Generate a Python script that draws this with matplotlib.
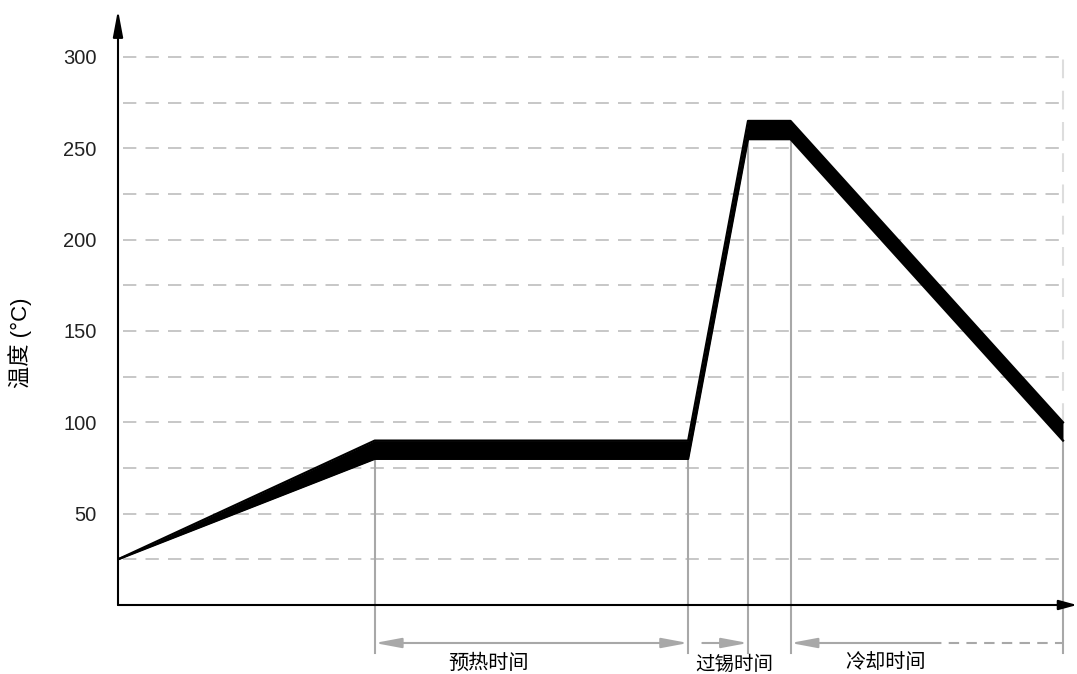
import matplotlib.pyplot as plt

plt.rcParams['font.family'] = ['Liberation Sans', 'Noto Sans CJK SC', 'DejaVu Sans']

# profile key points (time in arbitrary units, temperature in °C)
times = [0, 81.5, 181, 200, 213.5, 300]
temp_upper = [25, 90, 90, 265, 265, 100]
temp_lower = [25, 80, 80, 255, 255, 90]

yticks = [50, 100, 150, 200, 250, 300]
grid_levels = [25, 50, 75, 100, 125, 150, 175, 200, 225, 250, 275, 300]

phase_labels = ["预热时间", "过锡时间", "冷却时间"]
label_x = [117.5, 195.6, 243.8]
ylabel = "温度 (°C)"

fig = plt.figure(figsize=(10.77, 6.74), dpi=100)
ax = fig.add_axes([118 / 1077, 69 / 674, (1077 - 118) / 1077, (605 - 10) / 674])
ax.set_xlim(0, (1077 - 118) / 3.15)
ax.set_ylim(0, (605 - 10) / 1.8267)

for s in ax.spines.values():
    s.set_visible(False)
ax.set_xticks([])
ax.set_yticks(yticks)
ax.set_yticklabels([str(v) for v in yticks], fontsize=14.5, color="#222222")
ax.tick_params(axis="y", length=0, pad=15.5)
ax.set_ylabel(ylabel, fontsize=16)
ax.yaxis.set_label_coords(-0.09, 0.44)

# dashed grid
ax.hlines(grid_levels, 1.5, times[-1], colors="#bdbdbd", linewidth=1.2,
          linestyles=(0, (8, 5.5)), zorder=1)

# axis arrows
ax.annotate("", xy=(0, 1), xycoords="axes fraction", xytext=(0, 0),
            arrowprops=dict(arrowstyle="-|>,head_length=1.6,head_width=0.3",
                            color="black", lw=1.5, shrinkA=0, shrinkB=0))
ax.annotate("", xy=(1, 0), xycoords="axes fraction", xytext=(0, 0),
            arrowprops=dict(arrowstyle="-|>,head_length=1.1,head_width=0.3",
                            color="black", lw=1.5, shrinkA=0, shrinkB=0))

# phase boundary lines
y_bottom = -26.5
gray = "#a8a8a8"
for i in [1, 2, 3, 4, 5]:
    ax.plot([times[i], times[i]], [temp_lower[i], y_bottom], color=gray, lw=1.5,
            clip_on=False, zorder=2)
ax.plot([times[5], times[5]], [temp_upper[5], 300], color="#dddddd", lw=1.5,
        linestyle=(0, (9, 6)), zorder=2)

# temperature band
ax.fill_between(times, temp_lower, temp_upper, color="black", lw=0, zorder=3)
ax.plot(times, temp_upper, color="black", lw=1.6, zorder=3)
ax.plot(times, temp_lower, color="black", lw=1.6, zorder=3)

# phase arrows
ya = -20.8
head = "head_length=1.6,head_width=0.3"
ax.annotate("", xy=(times[2], ya), xytext=(times[1], ya), annotation_clip=False,
            arrowprops=dict(arrowstyle="<|-|>," + head, color=gray, lw=1.5,
                            shrinkA=0, shrinkB=0))
ax.annotate("", xy=(times[3], ya), xytext=(185.5, ya), annotation_clip=False,
            arrowprops=dict(arrowstyle="-|>," + head, color=gray, lw=1.5,
                            shrinkA=0, shrinkB=0))
ax.annotate("", xy=(times[4], ya), xytext=(258, ya), annotation_clip=False,
            arrowprops=dict(arrowstyle="-|>," + head, color=gray, lw=1.5,
                            shrinkA=0, shrinkB=0))
ax.plot([258, times[5]], [ya, ya], color=gray, lw=1.5, linestyle=(0, (5, 3.5)),
        clip_on=False)

ax.text(label_x[0], -31.7, phase_labels[0], ha="center", va="center", fontsize=14.5)
ax.text(label_x[1], -32.9, phase_labels[1], ha="center", va="center", fontsize=14)
ax.text(label_x[2], -31.7, phase_labels[2], ha="center", va="center", fontsize=14.5)

fig.savefig("out.png", dpi=100)
